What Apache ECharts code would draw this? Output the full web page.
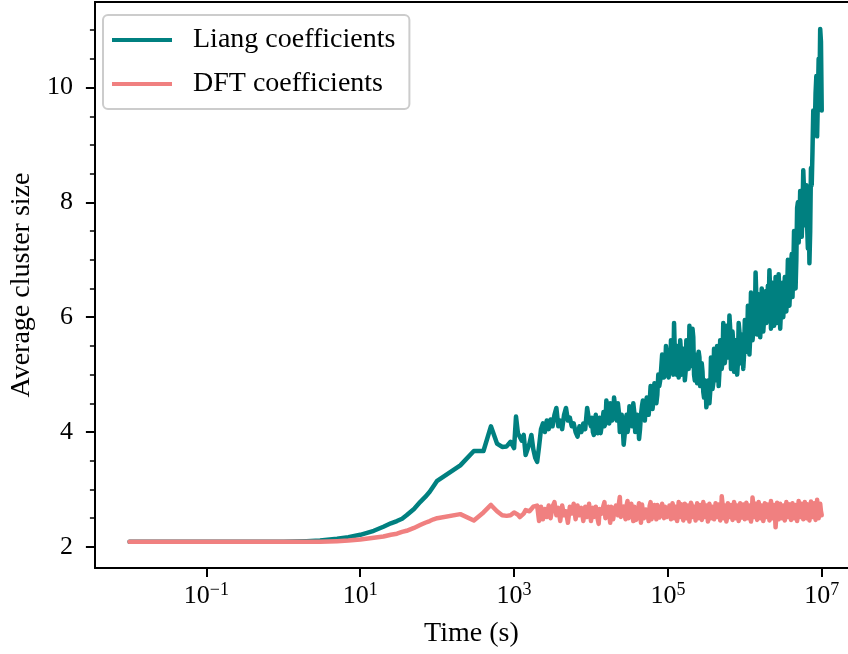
<!DOCTYPE html>
<html>
<head>
<meta charset="utf-8">
<script src="https://cdn.jsdelivr.net/npm/echarts@6/dist/echarts.min.js"></script>
<style>
  html, body { margin: 0; padding: 0; background: #fff; }
  #chart { width: 848px; height: 654px; }
</style>
</head>
<body>
<div id="chart"></div>
<script>
// ---- Data ----
const seriesNames = ['Liang coefficients', 'DFT coefficients'];

// smooth early part: times in seconds
const smoothTimes = [0.01, 0.1, 1, 2, 3, 5, 7, 10, 15, 20, 25, 30, 35, 40, 50, 60, 70, 80, 90, 100, 200, 300, 400, 500, 600, 700, 800, 900];
const liangSmooth = [2.09, 2.09, 2.09, 2.10, 2.11, 2.14, 2.17, 2.21, 2.28, 2.35, 2.41, 2.45, 2.49, 2.55, 2.66, 2.78, 2.87, 2.96, 3.06, 3.15, 3.42, 3.67, 3.67, 4.10, 3.80, 3.74, 3.75, 3.83];
const dftSmooth   = [2.09, 2.09, 2.09, 2.09, 2.09, 2.10, 2.11, 2.13, 2.16, 2.18, 2.21, 2.23, 2.26, 2.28, 2.33, 2.38, 2.42, 2.45, 2.48, 2.50, 2.57, 2.46, 2.60, 2.73, 2.62, 2.55, 2.54, 2.55];

// noisy part A: sampled at 10^3 ... 10^5, 40 samples per decade
const liangNoisyA = [
  3.72, 4.27, 3.98, 4.00, 3.85, 3.95, 3.60, 3.57, 3.80, 3.95,
  3.70, 3.55, 3.48, 3.75, 4.05, 4.15, 4.00, 4.20, 4.05, 4.22,
  4.10, 4.30, 4.42, 4.10, 4.20, 4.05, 4.30, 4.42, 4.20, 4.25,
  4.10, 4.15, 4.00, 3.92, 4.10, 4.00, 4.15, 4.05, 4.42, 4.20,
  4.10, 4.00, 4.20, 4.05, 4.15, 3.98, 4.20, 4.10, 4.55, 4.30,
  4.50, 4.20, 4.60, 4.30, 4.50, 4.00, 4.30, 3.78, 4.20, 4.00,
  4.45, 4.15, 4.50, 4.00, 4.30, 3.88, 4.30, 4.55, 4.20, 4.60,
  4.30, 4.80, 4.40, 4.85, 4.50, 5.00, 4.90, 5.35, 4.95, 5.50,
  5.10
];
const dftNoisyA = [
  2.60, 2.61, 2.56, 2.52, 2.50, 2.58, 2.64, 2.67, 2.62, 2.66,
  2.70, 2.73, 2.72, 2.45, 2.70, 2.48, 2.66, 2.52, 2.72, 2.50,
  2.70, 2.78, 2.55, 2.68, 2.45, 2.72, 2.55, 2.62, 2.42, 2.70,
  2.58, 2.75, 2.48, 2.72, 2.55, 2.68, 2.45, 2.70, 2.52, 2.75,
  2.45, 2.68, 2.58, 2.72, 2.40, 2.65, 2.55, 2.78, 2.50, 2.70,
  2.42, 2.66, 2.50, 2.72, 2.55, 2.87, 2.58, 2.70, 2.48, 2.80,
  2.52, 2.75, 2.45, 2.70, 2.55, 2.76, 2.42, 2.72, 2.52, 2.68,
  2.45, 2.78, 2.55, 2.73, 2.48, 2.70, 2.52, 2.75, 2.50, 2.72,
  2.55
];
// extra in-between samples for 10^4 ... 10^5 (halfway between the part A samples)
const liangNoisyAmid = [
  4.25, 3.95, 4.30, 3.98, 4.25, 3.95, 4.35, 4.15, 4.40, 4.15,
  4.45, 4.25, 4.45, 4.20, 4.35, 4.05, 4.10, 3.95, 4.30, 4.10,
  4.35, 4.10, 4.35, 4.10, 4.20, 4.05, 4.45, 4.30, 4.45, 4.40,
  4.50, 4.60, 4.55, 4.70, 4.65, 4.80, 5.10, 5.20, 5.05, 5.35
];
const dftNoisyAmid = [
  2.62, 2.52, 2.70, 2.48, 2.66, 2.58, 2.72, 2.50, 2.64, 2.55,
  2.70, 2.48, 2.68, 2.60, 2.75, 2.52, 2.66, 2.56, 2.72, 2.50,
  2.62, 2.54, 2.70, 2.47, 2.66, 2.58, 2.74, 2.50, 2.65, 2.55,
  2.71, 2.48, 2.67, 2.59, 2.73, 2.51, 2.64, 2.56, 2.70, 2.52
];

// noisy part B: sampled above 10^5 up to 10^7, 50 samples per decade
const liangNoisyB = [
  5.30, 5.60, 5.10, 5.90, 5.20, 5.50, 4.95, 5.60, 5.00, 5.45,
  4.90, 5.60, 5.20, 5.85, 5.30, 5.80, 5.00, 5.35, 4.85, 5.40,
  4.80, 5.20, 4.70, 4.90, 4.43, 4.80, 4.50, 5.30, 4.75, 5.45,
  4.90, 5.50, 4.80, 5.60, 5.10, 5.90, 5.20, 5.85, 5.30, 6.03,
  5.10, 5.75, 5.05, 5.60, 5.00, 5.90, 5.20, 5.70, 5.10, 5.95,
  5.40, 6.20, 5.35, 6.43, 5.60, 6.10, 6.78, 5.70, 6.40, 5.65,
  6.50, 5.75, 6.30, 5.90, 6.55, 6.82, 5.80, 6.60, 5.85, 6.70,
  5.90, 6.75, 5.80, 6.50, 6.00, 6.70, 6.10, 7.00, 6.20, 6.90,
  6.35, 7.50, 6.50, 7.90, 7.30, 8.20, 7.40, 8.56, 7.60, 8.30,
  7.20, 6.94, 8.60, 8.90, 9.20, 9.90, 9.15, 10.50, 11.02, 9.60
];
const dftNoisyB = [
  2.72, 2.48, 2.76, 2.50, 2.70, 2.45, 2.78, 2.52, 2.74, 2.46,
  2.75, 2.50, 2.72, 2.44, 2.77, 2.52, 2.70, 2.46, 2.76, 2.50,
  2.73, 2.47, 2.78, 2.52, 2.72, 2.44, 2.75, 2.50, 2.70, 2.48,
  2.76, 2.52, 2.74, 2.46, 2.88, 2.50, 2.72, 2.44, 2.76, 2.52,
  2.73, 2.47, 2.78, 2.50, 2.72, 2.45, 2.76, 2.51, 2.74, 2.48,
  2.77, 2.50, 2.72, 2.44, 2.86, 2.52, 2.75, 2.47, 2.78, 2.50,
  2.72, 2.45, 2.76, 2.52, 2.74, 2.46, 2.80, 2.50, 2.73, 2.34,
  2.77, 2.48, 2.75, 2.50, 2.72, 2.46, 2.78, 2.52, 2.74, 2.47,
  2.76, 2.50, 2.73, 2.45, 2.80, 2.52, 2.75, 2.48, 2.78, 2.50,
  2.74, 2.46, 2.79, 2.52, 2.76, 2.47, 2.82, 2.50, 2.75, 2.55
];
// extra in-between samples for part B
const liangNoisyBmid = [
  4.95, 5.05, 5.45, 5.00, 5.40, 5.00, 5.40, 5.15, 5.40, 5.10,
  5.35, 5.05, 5.55, 5.10, 5.60, 5.15, 5.65, 4.90, 5.25, 5.00,
  5.30, 4.85, 5.05, 4.60, 4.80, 4.55, 4.90, 4.70, 5.15, 4.85,
  5.30, 5.00, 5.40, 5.05, 5.50, 5.25, 5.70, 5.35, 5.75, 5.40,
  5.80, 5.25, 5.55, 5.20, 5.50, 5.20, 5.75, 5.30, 5.60, 5.35,
  5.85, 5.55, 6.00, 5.65, 6.20, 5.75, 5.90, 6.35, 5.85, 6.25,
  5.90, 6.30, 5.95, 6.45, 6.05, 6.20, 6.45, 6.00, 6.40, 6.05,
  6.45, 6.10, 6.40, 6.10, 6.60, 6.25, 6.60, 6.40, 6.75, 6.50,
  7.10, 6.80, 7.30, 7.00, 8.00, 7.60, 8.00, 7.80, 8.20, 7.90,
  7.60, 8.10, 7.50, 8.30, 9.60, 9.30, 10.20, 9.80, 9.90, 10.80
];
const dftNoisyBmid = [
  2.58, 2.66, 2.55, 2.70, 2.52, 2.64, 2.57, 2.72, 2.50, 2.66,
  2.56, 2.69, 2.53, 2.65, 2.58, 2.73, 2.51, 2.63, 2.56, 2.70,
  2.54, 2.66, 2.52, 2.71, 2.57, 2.64, 2.50, 2.68, 2.55, 2.72,
  2.53, 2.66, 2.58, 2.70, 2.52, 2.75, 2.56, 2.64, 2.51, 2.69,
  2.57, 2.66, 2.53, 2.72, 2.55, 2.64, 2.50, 2.70, 2.58, 2.67,
  2.52, 2.71, 2.56, 2.66, 2.53, 2.74, 2.57, 2.64, 2.51, 2.70,
  2.55, 2.67, 2.52, 2.72, 2.58, 2.65, 2.50, 2.69, 2.56, 2.62,
  2.53, 2.71, 2.57, 2.66, 2.51, 2.70, 2.55, 2.68, 2.52, 2.73,
  2.58, 2.64, 2.53, 2.70, 2.56, 2.67, 2.51, 2.72, 2.55, 2.66,
  2.52, 2.70, 2.57, 2.65, 2.53, 2.74, 2.56, 2.68, 2.60, 2.62
];

// axis ticks
const xTickValues = [0.1, 10, 1000, 100000, 10000000];
const yTickValues = [2, 4, 6, 8, 10];
const yMinorTickValues = [2.5, 3, 3.5, 4.5, 5, 5.5, 6.5, 7, 7.5, 8.5, 9, 9.5, 10.5, 11];

// ---- Sampling times of the noisy parts (log-spaced grid) ----
const gridA    = liangNoisyA.map((_, i) => Math.pow(10, 3 + 0.025 * i));
const gridAmid = liangNoisyAmid.map((_, i) => Math.pow(10, 4.0125 + 0.025 * i));
const gridB    = liangNoisyB.map((_, i) => Math.pow(10, 5.02 + 0.02 * i));
const gridBmid = liangNoisyBmid.map((_, i) => Math.pow(10, 5.01 + 0.02 * i));

function buildSeries(smooth, a, amid, b, bmid) {
  const out = [];
  smoothTimes.forEach((t, i) => out.push([t, smooth[i]]));
  gridA.forEach((t, i) => out.push([t, a[i]]));
  gridAmid.forEach((t, i) => out.push([t, amid[i]]));
  gridB.forEach((t, i) => out.push([t, b[i]]));
  gridBmid.forEach((t, i) => out.push([t, bmid[i]]));
  out.sort((p, q) => p[0] - q[0]);
  return out;
}
const liangData = buildSeries(liangSmooth, liangNoisyA, liangNoisyAmid, liangNoisyB, liangNoisyBmid);
const dftData = buildSeries(dftSmooth, dftNoisyA, dftNoisyAmid, dftNoisyB, dftNoisyBmid);

const FONT = 'Liberation Serif';
const xMin = Math.pow(10, -2.45);
const xMax = Math.pow(10, 7.3416);
const yMin = 1.632, yMax = 11.49;

function powLabel(v) {
  const e = Math.round(Math.log10(v));
  const s = e < 0 ? '\u2212' + (-e) : String(e);
  return '{b|10}{s|' + s + '}';
}

const chart = echarts.init(document.getElementById('chart'), null, { renderer: 'canvas' });
chart.setOption({
  animation: false,
  backgroundColor: '#ffffff',
  grid: { left: 94, right: 0, top: 2, bottom: 86, containLabel: false },
  legend: {
    data: seriesNames,
    orient: 'vertical',
    left: 103, top: 15,
    icon: 'rect',
    itemWidth: 60, itemHeight: 4,
    itemGap: 16,
    padding: [11, 14, 11, 9],
    backgroundColor: '#ffffff',
    borderColor: '#cccccc', borderWidth: 2, borderRadius: 5,
    textStyle: { fontFamily: FONT, fontSize: 28, color: '#000', padding: [0, 0, 0, 16] }
  },
  xAxis: [
    {
      type: 'log', position: 'bottom', min: xMin, max: xMax,
      axisLine: { show: true, lineStyle: { color: '#000', width: 2 } },
      axisTick: { show: true, length: 9, lineStyle: { color: '#000', width: 2 }, customValues: xTickValues },
      axisLabel: {
        customValues: xTickValues, margin: 13, formatter: powLabel,
        rich: {
          b: { fontFamily: FONT, fontSize: 26, color: '#000', lineHeight: 30 },
          s: { fontFamily: FONT, fontSize: 18, color: '#000', lineHeight: 18, verticalAlign: 'top' }
        }
      },
      splitLine: { show: false },
      minorTick: { show: false },
      name: 'Time (s)', nameLocation: 'middle', nameGap: 52,
      nameTextStyle: { fontFamily: FONT, fontSize: 28, color: '#000' }
    },
    {
      type: 'log', position: 'top', min: xMin, max: xMax,
      axisLine: { show: true, onZero: false, lineStyle: { color: '#000', width: 2 } },
      axisTick: { show: false }, axisLabel: { show: false }, splitLine: { show: false }
    }
  ],
  yAxis: [
    {
      type: 'value', position: 'left', min: yMin, max: yMax,
      axisLine: { show: true, onZero: false, lineStyle: { color: '#000', width: 2 } },
      axisTick: { show: true, length: 9, lineStyle: { color: '#000', width: 2 }, customValues: yTickValues },
      axisLabel: { customValues: yTickValues, margin: 22, fontFamily: FONT, fontSize: 26, color: '#000' },
      splitLine: { show: false },
      name: 'Average cluster size', nameLocation: 'middle', nameGap: 56, nameRotate: 90,
      nameTextStyle: { fontFamily: FONT, fontSize: 28, color: '#000' }
    },
    {
      type: 'value', position: 'left', min: yMin, max: yMax,
      axisLine: { show: false },
      axisTick: { show: true, length: 5, lineStyle: { color: '#000', width: 1.5 }, customValues: yMinorTickValues },
      axisLabel: { show: false }, splitLine: { show: false }
    }
  ],
  series: [
    {
      name: seriesNames[0], type: 'line', data: liangData,
      xAxisIndex: 0, yAxisIndex: 0,
      showSymbol: false, symbol: 'none',
      lineStyle: { color: '#008080', width: 4.5, join: 'round', cap: 'round' },
      itemStyle: { color: '#008080' }
    },
    {
      name: seriesNames[1], type: 'line', data: dftData,
      xAxisIndex: 0, yAxisIndex: 0,
      showSymbol: false, symbol: 'none',
      lineStyle: { color: '#F08080', width: 4.5, join: 'round', cap: 'round' },
      itemStyle: { color: '#F08080' }
    }
  ]
});
</script>
</body>
</html>
